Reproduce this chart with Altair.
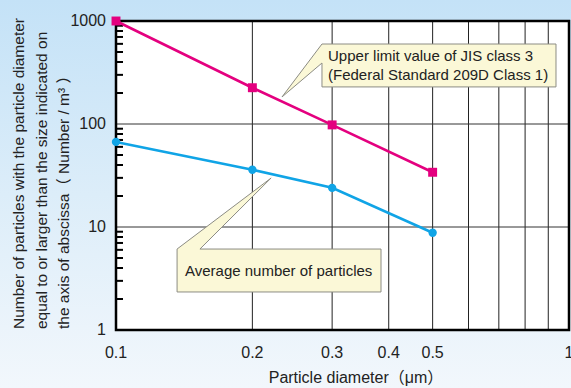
import altair as alt
import pandas as pd

# ---- data ----
diam = [0.1, 0.2, 0.3, 0.5]
jis_limit = [1000, 225, 98, 34]
avg_count = [67, 36, 24, 8.8]

x_tick_values = [0.1, 0.2, 0.3, 0.4, 0.5, 1.0]
x_tick_labels = ["0.1", "0.2", "0.3", "0.4", "0.5", "1"]
x_grid = [0.2, 0.3, 0.4, 0.5, 0.6, 0.7, 0.8, 0.9]
y_tick_values = [1, 10, 100, 1000]
y_tick_labels = ["1", "10", "100", "1000"]
y_grid = [10, 100]
y_minor = [m * d for d in (1, 10, 100) for m in range(2, 10)]

# callout shapes in data units (x = particle diameter, y = count)
call1_x = [0.2849, 0.936, 0.936, 0.2849, 0.2849, 0.2325]
call1_y = [598, 598, 229, 229, 391, 183]
call2_x = [0.1364, 0.2200, 0.1532, 0.3846, 0.3846, 0.1364]
call2_y = [6.11, 29.9, 6.11, 6.11, 2.34, 2.34]

text1 = ["Upper limit value of JIS class 3", "(Federal Standard 209D Class 1)"]
text1_x = [0.2938, 0.2938]
text1_y = [409, 267.5]
text2 = ["Average number of particles"]
text2_x = [0.1420]
text2_y = [3.344]

y_title = [
    "Number of particles with the particle diameter",
    "equal to or larger than the size indicated on",
    "the axis of abscissa\uff08 Number / m\u00b3 \uff09",
]
x_title = "Particle diameter\uff08\u03bcm\uff09"

PINK = "#e4007f"
BLUE = "#10a4e6"
FONT = "Liberation Sans"
TFONT = "Liberation Sans, 'Noto Sans CJK JP'"
TXT = "#222222"
W, H = 453, 309
PL, PT, PR, PB = 116, 21, 2, 58

xs = alt.Scale(type="log", domain=[0.1, 1], nice=False)
ys = alt.Scale(type="log", domain=[1, 1000], nice=False)

one = pd.DataFrame({"a": [0]})

grad = alt.LinearGradient(
    gradient="linear",
    stops=[
        alt.GradientStop(color="#c4e2f7", offset=0),
        alt.GradientStop(color="#dcedf9", offset=0.5),
        alt.GradientStop(color="#f2f7fc", offset=1),
    ],
    x1=0, x2=0, y1=0, y2=1,
)

bg = alt.Chart(one).mark_rect(color=grad, clip=False).encode(
    x=alt.value(-PL), x2=alt.value(W + PR), y=alt.value(-PT), y2=alt.value(H + PB)
)
white = alt.Chart(one).mark_rect(color="white").encode(
    x=alt.value(0), x2=alt.value(W), y=alt.value(0), y2=alt.value(H)
)

xgrid = alt.Chart(pd.DataFrame({"v": x_grid})).mark_rule(color="#222", strokeWidth=1).encode(
    x=alt.X("v:Q", scale=xs, axis=None)
)
ygrid = alt.Chart(pd.DataFrame({"v": y_grid})).mark_rule(color="#333", strokeWidth=1).encode(
    y=alt.Y("v:Q", scale=ys, axis=None)
)
minor = alt.Chart(pd.DataFrame({"v": y_minor})).mark_rule(color="black", strokeWidth=2).encode(
    y=alt.Y("v:Q", scale=ys, axis=None), x=alt.value(0), x2=alt.value(7)
)
frame = alt.Chart(one).mark_rect(filled=False, color="black", strokeWidth=2.5).encode(
    x=alt.value(0), x2=alt.value(W), y=alt.value(0), y2=alt.value(H)
)

# tick labels drawn through the scales
xlab = alt.Chart(pd.DataFrame({"v": x_tick_values, "t": x_tick_labels})).mark_text(
    fontSize=16, font=FONT, color=TXT, baseline="middle", align="center", clip=False
).encode(x=alt.X("v:Q", scale=xs, axis=None), y=alt.value(H + 23), text="t:N")
ylab = alt.Chart(pd.DataFrame({"v": y_tick_values, "t": y_tick_labels})).mark_text(
    fontSize=16, font=FONT, color=TXT, baseline="middle", align="right", clip=False
).encode(y=alt.Y("v:Q", scale=ys, axis=None), x=alt.value(-10), text="t:N")

# axis titles
ytitle = alt.Chart(pd.DataFrame({"t": y_title, "px": [-92, -69.5, -47]})).mark_text(
    fontSize=15.5, font=TFONT, color=TXT, angle=270, align="left", baseline="alphabetic"
).encode(x=alt.X("px:Q", scale=None, axis=None), y=alt.value(H - 1), text="t:N")
xtitle = alt.Chart(pd.DataFrame({"t": [x_title]})).mark_text(
    fontSize=16, font=TFONT, color=TXT, align="center", baseline="alphabetic"
).encode(x=alt.value(240), y=alt.value(H + 53), text="t:N")

df_pink = pd.DataFrame({"d": diam, "n": jis_limit})
df_blue = pd.DataFrame({"d": diam, "n": avg_count})


def series(df, color, shape, size):
    enc = dict(x=alt.X("d:Q", scale=xs, axis=None), y=alt.Y("n:Q", scale=ys, axis=None))
    line = alt.Chart(df).mark_line(color=color, strokeWidth=2.6).encode(**enc)
    pts = alt.Chart(df).mark_point(shape=shape, filled=True, opacity=1, color=color, size=size, clip=False).encode(**enc)
    return line + pts


pink = series(df_pink, PINK, "square", 80)
blue = series(df_blue, BLUE, "circle", 70)

call_df = pd.DataFrame({
    "cx": call1_x + call2_x,
    "cy": call1_y + call2_y,
    "k": ["a"] * len(call1_x) + ["b"] * len(call2_x),
    "o": list(range(len(call1_x))) + list(range(len(call2_x))),
})
callouts = alt.Chart(call_df).mark_line(
    fill="#fbf8d7", stroke="#8c8c84", strokeWidth=1, interpolate="linear-closed"
).encode(
    x=alt.X("cx:Q", scale=xs, axis=None),
    y=alt.Y("cy:Q", scale=ys, axis=None),
    detail="k:N",
    order="o:Q",
)

txt_df = pd.DataFrame({"tx": text1_x + text2_x, "ty": text1_y + text2_y, "t": text1 + text2})
texts = alt.Chart(txt_df).mark_text(
    align="left", baseline="alphabetic", fontSize=15, font=FONT, color=TXT
).encode(
    x=alt.X("tx:Q", scale=xs, axis=None),
    y=alt.Y("ty:Q", scale=ys, axis=None),
    text="t:N",
)

chart = alt.layer(
    bg, white, xgrid, ygrid, minor, frame, blue, pink, callouts, texts,
    xlab, ylab, ytitle, xtitle,
).properties(
    width=W, height=H,
    autosize=alt.AutoSizeParams(type="none"),
    padding={"left": PL, "top": PT, "right": PR, "bottom": PB},
).configure_view(stroke=None).configure(background="#dcedf9")

chart.save("out.html", embed_options={"renderer": "svg", "actions": False})
